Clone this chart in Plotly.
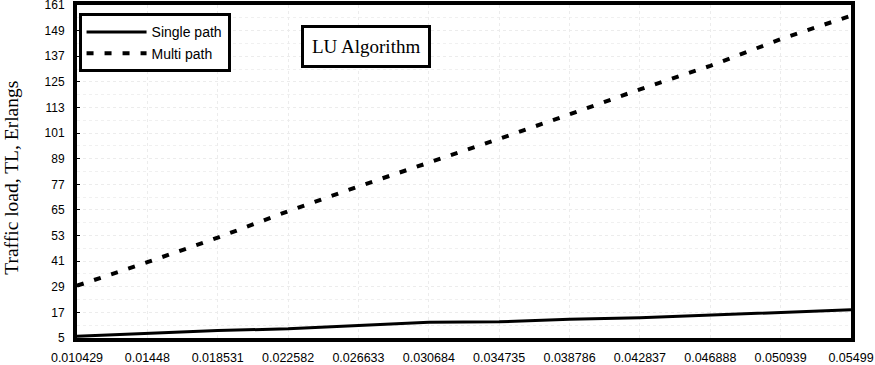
import plotly.graph_objects as go

x_values = [0.010429, 0.01448, 0.018531, 0.022582, 0.026633, 0.030684,
            0.034735, 0.038786, 0.042837, 0.046888, 0.050939, 0.05499]
x_labels = ["0.010429", "0.01448", "0.018531", "0.022582", "0.026633", "0.030684",
            "0.034735", "0.038786", "0.042837", "0.046888", "0.050939", "0.05499"]
single_path = [5.8, 7.0, 8.5, 9.3, 10.8, 12.4, 12.6, 13.8, 14.5, 15.8, 17.0, 18.2]
multi_path = [29.5, 40.5, 52.0, 64.4, 76.0, 87.0, 98.3, 109.8, 121.5, 132.5, 145.0, 156.0]
y_ticks = [5, 17, 29, 41, 53, 65, 77, 89, 101, 113, 125, 137, 149, 161]

fig = go.Figure()
fig.add_trace(go.Scatter(x=x_values, y=single_path, mode="lines", name="Single path",
                         line=dict(color="black", width=3)))
fig.add_trace(go.Scatter(x=x_values, y=multi_path, mode="lines", name="Multi path",
                         line=dict(color="black", width=4, dash="7px,11px")))

fig.update_layout(
    width=875, height=365,
    margin=dict(l=77, r=24, t=5, b=27, autoexpand=False),
    paper_bgcolor="white", plot_bgcolor="white",
    font=dict(family="Liberation Sans, Arial", size=12, color="black"),
    legend=dict(x=0.002, y=0.975, xanchor="left", yanchor="top",
                bordercolor="black", borderwidth=3, bgcolor="white",
                font=dict(family="Liberation Sans, Arial", size=14),
                tracegroupgap=0, itemwidth=60),
    showlegend=True,
    annotations=[
        dict(text="LU Algorithm", xref="paper", yref="paper",
             x=0.373, y=0.874, xanchor="center", yanchor="middle",
             showarrow=False, font=dict(family="Liberation Serif, Times New Roman", size=19),
             bordercolor="black", borderwidth=3, borderpad=8, bgcolor="white"),
        dict(text="Traffic load, TL, Erlangs", xref="paper", yref="paper",
             x=-0.0845, y=0.48, xanchor="center", yanchor="middle", textangle=-90,
             showarrow=False, font=dict(family="Liberation Serif, Times New Roman", size=19.5)),
    ],
)
fig.update_xaxes(range=[x_values[0], x_values[-1]], tickvals=x_values, ticktext=x_labels,
                 showline=True, linecolor="black", linewidth=4, mirror=True,
                 showgrid=True, gridcolor="#ececec", griddash="dot", gridwidth=1,
                 ticks="", zeroline=False, tickfont=dict(size=12.5), automargin=False,
                 ticklabelstandoff=5, ticklabeloverflow="allow")
fig.update_yaxes(range=[5, 161], tickvals=y_ticks,
                 showline=True, linecolor="black", linewidth=4, mirror=True,
                 showgrid=True, gridcolor="#ececec", griddash="dot", gridwidth=1,
                 minor=dict(dtick=6, tick0=5, showgrid=True, gridcolor="#f0f0f0", griddash="dot"),
                 ticks="inside", ticklen=3, tickcolor="black", zeroline=False,
                 tickfont=dict(size=12), automargin=False, ticklabelstandoff=6,
                 ticklabeloverflow="allow")

fig.write_html("out.html", config={"displayModeBar": False},
               post_script="document.body.style.margin='0';")
